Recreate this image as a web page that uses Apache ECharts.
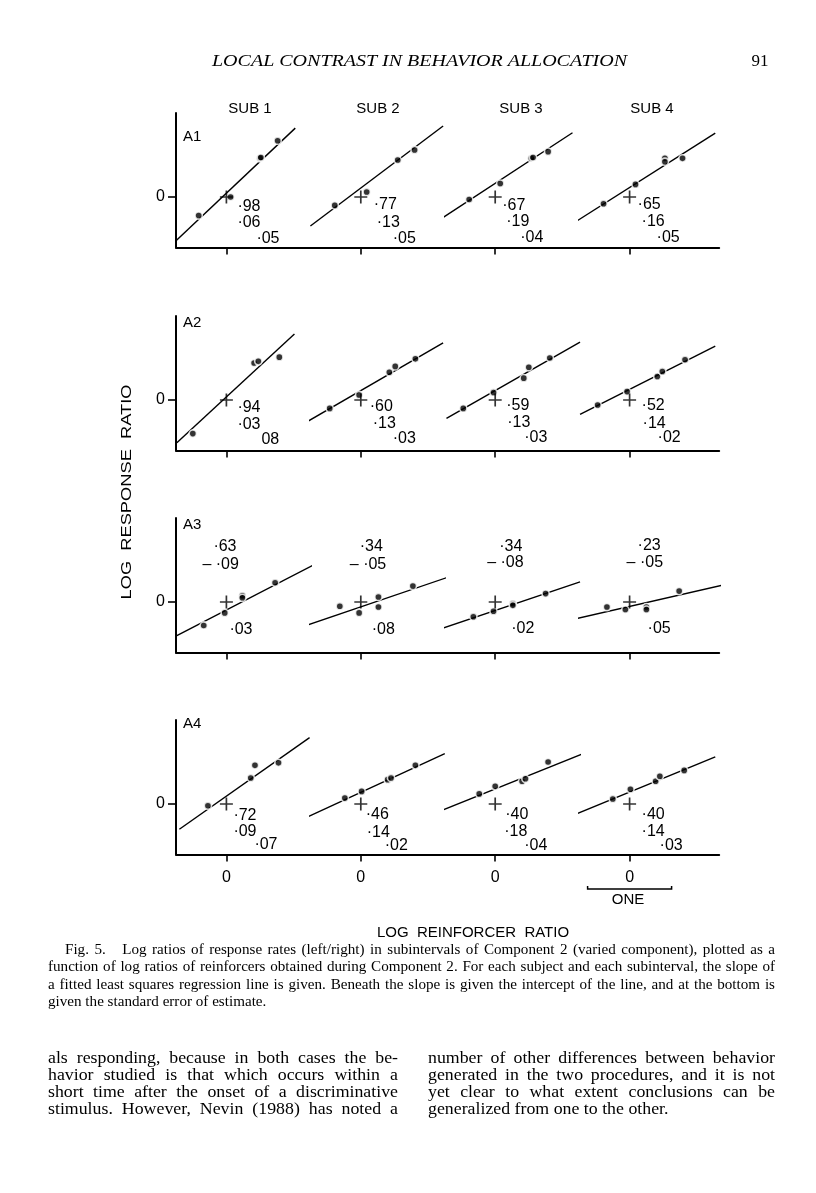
<!DOCTYPE html>
<html><head><meta charset="utf-8">
<script src="https://cdn.jsdelivr.net/npm/echarts@6/dist/echarts.min.js"></script>
<style>html,body{margin:0;padding:0;background:#fff}#c{width:816px;height:1193px}</style>
</head><body><div id="c"></div><script>
// ---------------- DATA (log units) ----------------
const rowNames = ['A1', 'A2', 'A3', 'A4'];
const subjects = ['SUB 1', 'SUB 2', 'SUB 3', 'SUB 4'];
const xTickLabels = ['0', '0', '0', '0'];
const yTickLabel = '0';

// points [logReinforcerRatio, logResponseRatio], one list per subject
const pointsA1 = [
  [[-0.33,-0.22],[0.05,0.00],[0.40,0.46],[0.41,0.47],[0.61,0.67]],
  [[-0.31,-0.10],[0.07,0.06],[0.44,0.44],[0.64,0.56]],
  [[-0.31,-0.03],[0.06,0.16],[0.43,0.46],[0.45,0.47],[0.63,0.54]],
  [[-0.31,-0.08],[0.07,0.15],[0.42,0.46],[0.42,0.42],[0.63,0.46]]
];
const pointsA2 = [
  [[-0.40,-0.40],[0.33,0.44],[0.38,0.46],[0.63,0.51]],
  [[-0.37,-0.10],[-0.02,0.06],[0.34,0.33],[0.41,0.40],[0.65,0.49]],
  [[-0.38,-0.10],[-0.02,0.09],[0.34,0.26],[0.40,0.39],[0.65,0.50]],
  [[-0.38,-0.06],[-0.03,0.10],[0.33,0.28],[0.39,0.34],[0.66,0.48]]
];
const pointsA3 = [
  [[-0.27,-0.28],[-0.02,-0.13],[0.19,0.075],[0.19,0.05],[0.58,0.23]],
  [[-0.25,-0.05],[-0.02,-0.13],[0.21,0.06],[0.21,-0.06],[0.62,0.19]],
  [[-0.26,-0.175],[-0.02,-0.11],[0.21,-0.02],[0.21,-0.04],[0.60,0.10]],
  [[-0.27,-0.06],[-0.05,-0.09],[0.20,-0.06],[0.20,-0.09],[0.59,0.13]]
];
const pointsA4 = [
  [[-0.22,-0.02],[0.29,0.31],[0.34,0.46],[0.62,0.49]],
  [[-0.19,0.07],[0.01,0.15],[0.32,0.29],[0.36,0.31],[0.65,0.46]],
  [[-0.19,0.12],[0.00,0.21],[0.32,0.27],[0.36,0.30],[0.63,0.50]],
  [[-0.20,0.06],[0.01,0.175],[0.31,0.27],[0.36,0.33],[0.65,0.40]]
];

// regression lines as drawn: [start, end] in log units
const linesA1 = [
  [[-0.60,-0.52],[0.82,0.82]],
  [[-0.60,-0.345],[0.98,0.845]],
  [[-0.69,-0.29],[0.92,0.765]],
  [[-0.65,-0.30],[1.02,0.76]]
];
const linesA2 = [
  [[-0.59,-0.51],[0.81,0.786]],
  [[-0.675,-0.28],[0.98,0.68]],
  [[-0.58,-0.22],[1.01,0.69]],
  [[-0.59,-0.17],[1.02,0.64]]
];
const linesA3 = [
  [[-0.59,-0.40],[1.21,0.53]],
  [[-0.80,-0.33],[1.14,0.33]],
  [[-0.86,-0.39],[1.01,0.24]],
  [[-0.77,-0.23],[1.15,0.21]]
];
const linesA4 = [
  [[-0.56,-0.30],[0.99,0.79]],
  [[-0.82,-0.24],[1.00,0.60]],
  [[-0.72,-0.11],[1.10,0.62]],
  [[-0.71,-0.15],[1.02,0.56]]
];

// slope, intercept, standard error of estimate (as printed)
const statsA1 = [['·98','·06','·05'], ['·77','·13','·05'], ['·67','·19','·04'], ['·65','·16','·05']];
const statsA2 = [['·94','·03','08'],  ['·60','·13','·03'], ['·59','·13','·03'], ['·52','·14','·02']];
const statsA3 = [['·63','– ·09','·03'], ['·34','– ·05','·08'], ['·34','– ·08','·02'], ['·23','– ·05','·05']];
const statsA4 = [['·72','·09','·07'], ['·46','·14','·02'], ['·40','·18','·04'], ['·40','·14','·03']];

const headerText = 'LOCAL CONTRAST IN BEHAVIOR ALLOCATION';
const pageNumber = '91';
const yTitle = 'LOG  RESPONSE  RATIO';
const xTitle = 'LOG  REINFORCER  RATIO';
const scaleLabel = 'ONE';
const captionLines = [
  'Fig. 5.   Log ratios of response rates (left/right) in subintervals of Component 2 (varied component), plotted as a',
  'function of log ratios of reinforcers obtained during Component 2. For each subject and each subinterval, the slope of',
  'a fitted least squares regression line is given. Beneath the slope is given the intercept of the line, and at the bottom is',
  'given the standard error of estimate.'
];
const bodyLeft = [
  'als responding, because in both cases the be-',
  'havior studied is that which occurs within a',
  'short time after the onset of a discriminative',
  'stimulus. However, Nevin (1988) has noted a'
];
const bodyRight = [
  'number of other differences between behavior',
  'generated in the two procedures, and it is not',
  'yet clear to what extent conclusions can be',
  'generalized from one to the other.'
];

// ---------------- LAYOUT ----------------
const rowPoints = [pointsA1, pointsA2, pointsA3, pointsA4];
const rowLines = [linesA1, linesA2, linesA3, linesA4];
const rowStats = [statsA1, statsA2, statsA3, statsA4];
const U = 84;                       // px per log unit
const zeroY = [197, 400, 602, 804];
const axisLeft = 176;
const cellW = 134.4;
// label anchor offsets (px) from each panel origin: slope, intercept, SE
const labelPos = [
  [[[11,10],[11,26],[30,42]], [[13,8],[16,26],[32,42]], [[7,9],[11,25],[25,41]], [[8,8],[12,25],[27,41]]],
  [[[11,8],[11,25],[35,40]], [[9,7],[12,24],[32,39]], [[11,6],[12,23],[29,38]], [[12,6],[13,24],[28,38]]],
  [[[-13,-55],[-24,-37],[3,28]], [[-1,-55],[-11,-37],[11,28]], [[4,-55],[-8,-39],[16,27]], [[8,-56],[-3,-39],[18,27]]],
  [[[7,12],[7,28],[28,41]], [[5,11],[6,29],[24,42]], [[10,11],[9,28],[29,42]], [[12,11],[12,28],[30,42]]]
];
const INK = '#000000';
const SANS = "'Liberation Sans', Arial, sans-serif";
const SERIF = "'Liberation Serif', 'Times New Roman', serif";
const plusPath = 'path://M4.35,0h1.3v4.35h4.35v1.3h-4.35v4.35h-1.3v-4.35h-4.35v-1.3h4.35z';

const grid = [], xAxis = [], yAxis = [], series = [];
for (let r = 0; r < 4; r++) {
  for (let k = 0; k < 4; k++) {
    const idx = r * 4 + k;
    const w = k === 3 ? 140 : cellW;
    grid.push({ left: axisLeft + k * cellW, top: zeroY[r] - U, width: w, height: 1.6 * U });
    xAxis.push({
      type: 'value', gridIndex: idx, min: -0.6, max: -0.6 + w / U, position: 'bottom',
      axisLine: { show: true, onZero: false, lineStyle: { color: INK, width: 2 } },
      axisTick: { show: true, customValues: [0], length: 7, lineStyle: { color: INK, width: 1.6 } },
      axisLabel: { show: r === 3, customValues: [0], formatter: () => xTickLabels[k], margin: 15,
                   color: INK, fontSize: 16, fontFamily: SANS },
      splitLine: { show: false }
    });
    yAxis.push({
      type: 'value', gridIndex: idx, min: -0.6, max: 1.0, position: 'left',
      axisLine: { show: k === 0, onZero: false, lineStyle: { color: INK, width: 2 } },
      axisTick: { show: k === 0, customValues: [0], length: 8, lineStyle: { color: INK, width: 1.6 } },
      axisLabel: { show: k === 0, customValues: [0], formatter: () => yTickLabel, margin: 11,
                   color: INK, fontSize: 16, fontFamily: SANS },
      splitLine: { show: false }
    });
    series.push({
      type: 'line', xAxisIndex: idx, yAxisIndex: idx, data: rowLines[r][k],
      symbol: 'none', clip: false, silent: true, z: 2,
      lineStyle: { color: INK, width: 1.4 }
    });
    series.push({
      type: 'scatter', xAxisIndex: idx, yAxisIndex: idx, data: rowPoints[r][k],
      symbolSize: 7.2, clip: false, silent: true, z: 3,
      itemStyle: { color: INK, borderColor: '#fff', borderWidth: 1.6 }
    });
    series.push({
      type: 'scatter', xAxisIndex: idx, yAxisIndex: idx, data: [[0, 0]],
      symbol: plusPath, symbolSize: 13, clip: false, silent: true, z: 4,
      itemStyle: { color: INK }
    });
    series.push({
      type: 'scatter', xAxisIndex: idx, yAxisIndex: idx, clip: false, silent: true, z: 5,
      symbolSize: 0.01, itemStyle: { color: INK, opacity: 1 },
      data: rowStats[r][k].map((s, j) => ({
        value: [0, 0],
        label: { show: true, position: labelPos[r][k][j], formatter: s,
                 align: 'left', verticalAlign: 'middle', opacity: 1,
                 color: INK, textBorderWidth: 0, textBorderColor: 'transparent',
                 fontSize: 16, fontFamily: SANS }
      }))
    });
  }
}

// ---------------- text helpers ----------------
const mctx = document.createElement('canvas').getContext('2d');
function measure(t, font) { mctx.font = font; return mctx.measureText(t).width; }
function textEl(text, x, y, font, opt) {
  opt = opt || {};
  let sx = opt.scaleX || 1;
  if (opt.width) sx = opt.width / measure(text, font);
  return {
    type: 'text', x: x, y: y, scaleX: sx, rotation: opt.rotation || 0, silent: true,
    style: { text: text, font: font, fill: INK,
             align: opt.align || 'left', textAlign: opt.align || 'left',
             verticalAlign: 'middle', textVerticalAlign: 'middle' }
  };
}
// a justified block: glyphs get one common horizontal scale, the rest of the
// width goes into the spaces; the last line is set ragged
function block(lines, xs, ys, right, font) {
  const justifiedIdx = lines.map((_, i) => i).slice(0, lines.length - 1);
  let sx = Infinity;
  justifiedIdx.forEach(i => { sx = Math.min(sx, (right - xs[i]) / measure(lines[i], font)); });
  sx = Math.min(sx, 1.08);
  const spaceW = measure(' ', font) * sx;
  const out = [];
  lines.forEach((line, i) => {
    const tokens = line.split(/( +)/).filter(t => t.length);
    let wordsW = 0, spaces = 0;
    tokens.forEach(t => { if (t[0] === ' ') spaces += t.length; else wordsW += measure(t, font) * sx; });
    const last = i === lines.length - 1;
    const unit = (!last && spaces) ? (right - xs[i] - wordsW) / spaces : spaceW;
    let x = xs[i];
    tokens.forEach(t => {
      if (t[0] === ' ') x += unit * t.length;
      else { out.push(textEl(t, x, ys[i], font, { scaleX: sx })); x += measure(t, font) * sx; }
    });
  });
  return out;
}
const graphic = [];
graphic.push(textEl(headerText, 212, 62, 'italic 17px ' + SERIF, { width: 415 }));
graphic.push(textEl(pageNumber, 760, 62, '17px ' + SERIF, { align: 'center' }));
const subX = [250, 378, 521, 652];
subjects.forEach((s, i) => graphic.push(textEl(s, subX[i], 109, '15px ' + SANS, { align: 'center' })));
const panelY = [137, 323, 525, 724];
rowNames.forEach((s, i) => graphic.push(textEl(s, 183, panelY[i], '15px ' + SANS)));
graphic.push(textEl(yTitle, 127, 492, '15px ' + SANS, { align: 'center', rotation: Math.PI / 2, width: 215 }));
graphic.push(textEl(xTitle, 473, 933, '15px ' + SANS, { align: 'center' }));
graphic.push(textEl(scaleLabel, 628, 900, '15px ' + SANS, { align: 'center' }));

graphic.push(...block(captionLines, [65, 48, 48, 48], [950, 967.5, 985, 1002.5], 775, '14px ' + SERIF));
const bodyY = [1059, 1076, 1093, 1110];
graphic.push(...block(bodyLeft.concat(['']), [48, 48, 48, 48, 48], bodyY.concat([0]), 398, '16.5px ' + SERIF));
graphic.push(...block(bodyRight, [428, 428, 428, 428], bodyY, 775, '16.5px ' + SERIF));

const chart = echarts.init(document.getElementById('c'), null, { renderer: 'canvas' });
chart.setOption({ animation: false, backgroundColor: '#fff', grid, xAxis, yAxis, series, graphic });

// scale bar: one log unit, measured through the last panel's x scale
const p0 = chart.convertToPixel({ gridIndex: 15 }, [0, 0]);
const p1 = chart.convertToPixel({ gridIndex: 15 }, [1, 0]);
const len = p1[0] - p0[0];
const bx0 = p0[0] - len / 2, by = 889;
chart.setOption({ graphic: graphic.concat([
  { type: 'polyline', silent: true, shape: { points: [[bx0, by - 3], [bx0, by], [bx0 + len, by], [bx0 + len, by - 3]] },
    style: { stroke: INK, lineWidth: 1.5, fill: null } }
]) });
</script></body></html>
